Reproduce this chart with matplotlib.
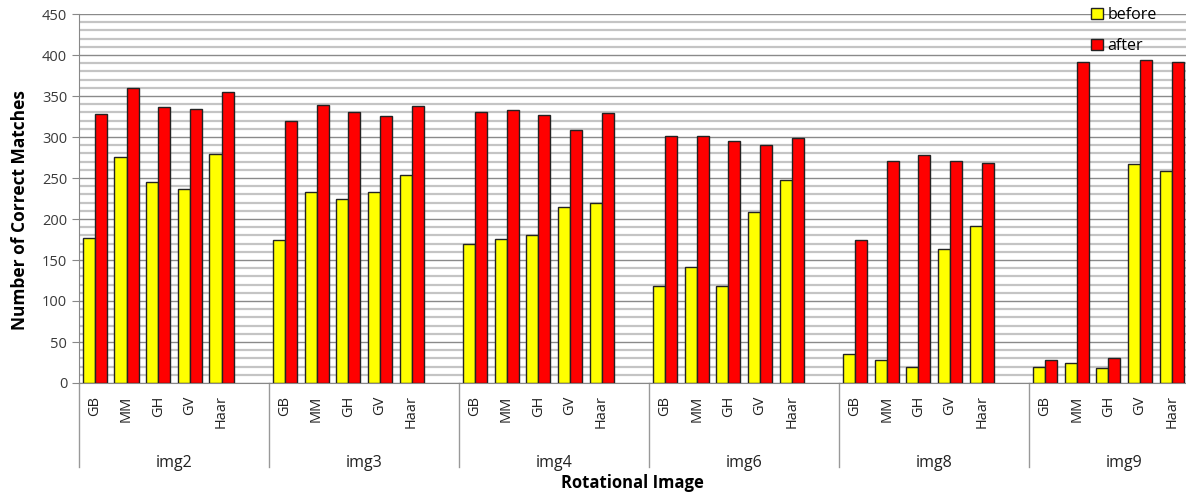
import matplotlib.pyplot as plt
import matplotlib.transforms as mtransforms
from matplotlib.patches import Patch
import numpy as np

plt.rcParams['font.family'] = ['Open Sans', 'DejaVu Sans']

# data
groups = ['img2', 'img3', 'img4', 'img6', 'img8', 'img9']
methods = ['GB', 'MM', 'GH', 'GV', 'Haar']
before = [
    [177, 276, 245, 237, 279],
    [174, 233, 224, 233, 254],
    [169, 176, 180, 215, 220],
    [118, 142, 118, 208, 247],
    [35, 28, 20, 163, 192],
    [20, 25, 18, 267, 259],
]
after = [
    [328, 360, 337, 334, 355],
    [319, 339, 331, 326, 338],
    [331, 333, 327, 308, 329],
    [301, 301, 295, 290, 299],
    [174, 271, 278, 271, 268],
    [28, 392, 30, 394, 392],
]

slots = len(methods) + 1
bw = 0.38

fig = plt.figure(figsize=(11.86, 4.96), dpi=100)
ax = fig.add_axes([79 / 1186, 1 - 383 / 496, 1 - 79 / 1186, 369 / 496])

xpos, xlabels = [], []
for g in range(len(groups)):
    x = g * slots + np.arange(len(methods))
    ax.bar(x - bw / 2, before[g], bw, color='#ffff00', edgecolor='#222222', linewidth=1, zorder=3)
    ax.bar(x + bw / 2, after[g], bw, color='#ff0000', edgecolor='#222222', linewidth=1, zorder=3)
    xpos.extend(x)
    xlabels.extend(methods)

ax.set_xlim(-0.5, 34.45)
ax.set_ylim(0, 450)
ax.set_yticks(np.arange(0, 451, 50))
ax.set_yticks(np.arange(0, 451, 10), minor=True)
ax.grid(axis='y', which='minor', color='#c4c4c4', linewidth=1.6, zorder=0)
ax.grid(axis='y', which='major', color='#8a8a8a', linewidth=1.0, zorder=1)
ax.tick_params(axis='y', which='major', length=5, color='#888888', labelsize=10.5, labelcolor='#3a3a3a')
ax.tick_params(axis='y', which='minor', length=0)

ax.set_xticks(xpos)
ax.set_xticklabels(xlabels, rotation=90, fontsize=10.5, color='#222222')
ax.tick_params(axis='x', length=0, pad=9)

for s in ['top', 'right']:
    ax.spines[s].set_visible(False)
for s in ['left', 'bottom']:
    ax.spines[s].set_color('#888888')

trans = mtransforms.blended_transform_factory(ax.transData, ax.transAxes)
for g in range(len(groups)):
    xb = g * slots - 0.5
    ax.plot([xb, xb], [0, -0.228], transform=trans, color='#999999', lw=1, clip_on=False)
    ax.text(g * slots + 2.5, -0.217, groups[g], transform=trans, ha='center', va='center',
            fontsize=11.5, color='#222222')

fig.text(0.5 * (79 + 1186) / 1186, 1 - 483 / 496, 'Rotational Image',
         ha='center', va='center', fontsize=12, fontweight='bold')
fig.text(20 / 1186, 1 - 210 / 496, 'Number of Correct Matches', rotation=90, ha='center',
         va='center', fontsize=12.5, fontweight='bold')

handles = [Patch(facecolor='#ffff00', edgecolor='#222222'),
           Patch(facecolor='#ff0000', edgecolor='#222222')]
ax.legend(handles, ['before', 'after'], loc='upper left', bbox_to_anchor=(1085 / 1186, 1 - 1 / 496),
          bbox_transform=fig.transFigure, frameon=False, fontsize=11.5, handlelength=0.7,
          handleheight=0.7, handletextpad=0.3, labelspacing=0.9, borderaxespad=0)

fig.savefig('out.png', dpi=100)
